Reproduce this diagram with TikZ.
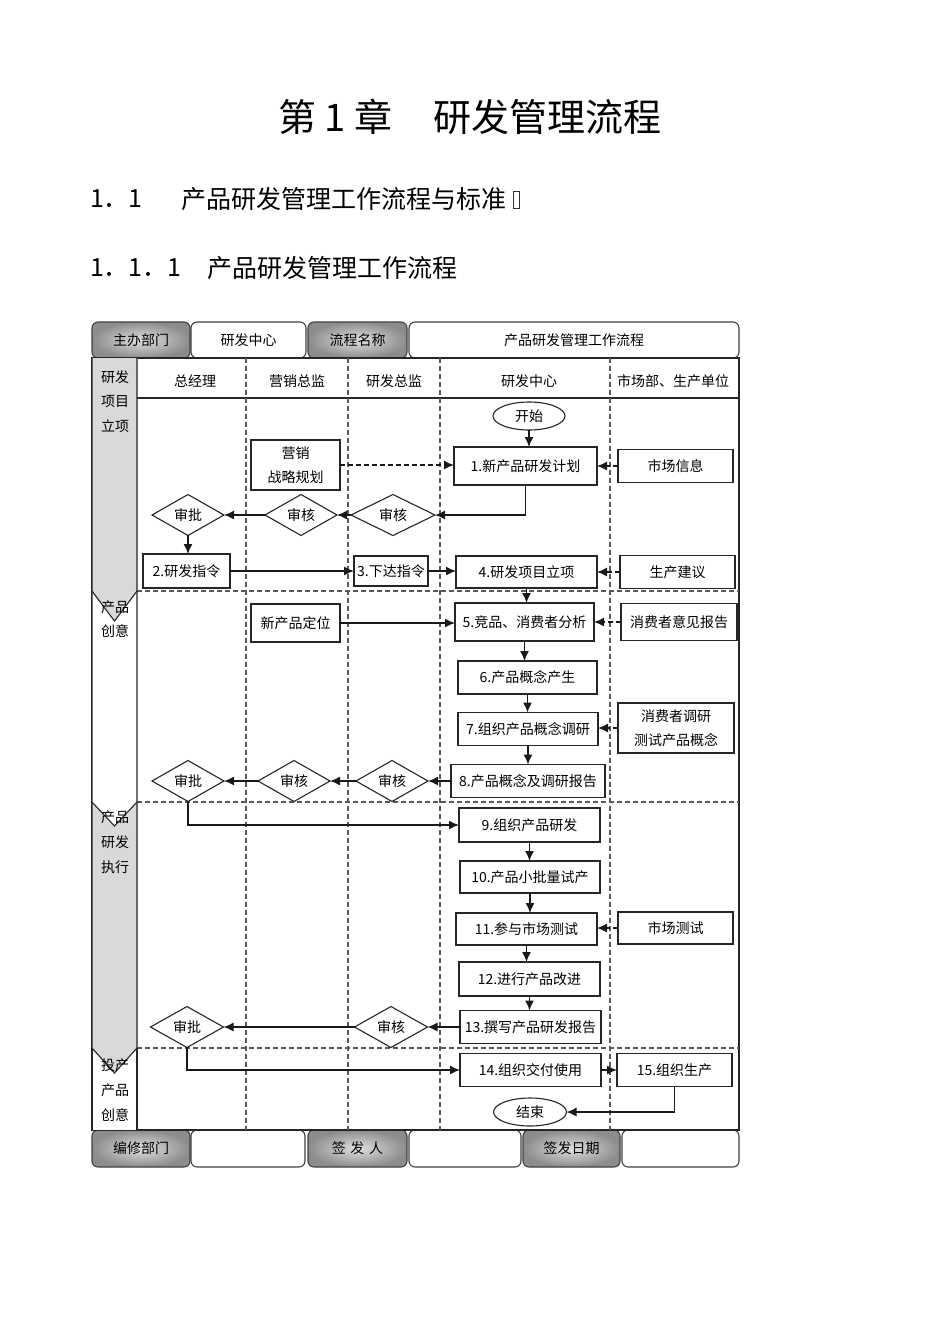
\documentclass[tikz,border=0pt]{standalone}
\usepackage{fontspec}
\setmainfont{Noto Sans CJK SC}
\usetikzlibrary{shapes.geometric,arrows.meta}
\newcommand\fs{\fontsize{14}{24}\selectfont}
\newcommand\mybox[6]{\node[box, minimum width=#4pt, minimum height=#5pt] (#1) at (#2,#3) {#6};}
\newcommand\mydia[5]{\node[dia, minimum width=#4pt, minimum height=40pt] (#1) at (#2,#3) {#5};}
\begin{document}
\begin{tikzpicture}[x=1pt,y=-1pt,
  every node/.style={inner sep=0pt, outer sep=0pt},
  box/.style={draw=black!85, line width=1.2pt, fill=white, font=\fs, align=center},
  dia/.style={diamond, draw=black!85, line width=1.1pt, fill=white, font=\fs, inner sep=0pt},
  ell/.style={ellipse, draw=black!85, line width=1.1pt, fill=white, font=\fs},
  arr/.style={line width=1.4pt, draw=black!90, -{Latex[length=10pt,width=9pt]}},
  darr/.style={arr, dash pattern=on 5pt off 3pt},
  lane/.style={draw=black!65, line width=1.2pt, dash pattern=on 5pt off 3pt},
  hg/.style={draw=black!75, line width=1.1pt, rounded corners=6pt, inner color=black!12, outer color=black!45, font=\fs},
  hw/.style={draw=black!75, line width=1.1pt, rounded corners=6pt, fill=white, font=\fs},
  stg/.style={font=\fs},
]
\useasboundingbox (0,0) rectangle (950,1344);
\fill[white] (0,0) rectangle (950,1344);

% headings
\node[anchor=west, font=\fontsize{38}{40}\selectfont] (t1) at (278,117) {第~1~章};
\node[anchor=west, font=\fontsize{38}{40}\selectfont] (t2) at (433,117) {研发管理流程};
\node[anchor=west, font=\fontsize{25}{28}\selectfont] (s1) at (90,199) {1．1};
\node[anchor=west, font=\fontsize{25}{28}\selectfont] (s2) at (181,199) {产品研发管理工作流程与标准};
\draw[black!80, line width=0.6pt] (513,191) rectangle (519,208);
\node[anchor=west, font=\fontsize{25}{28}\selectfont] (s3) at (90,268) {1．1．1};
\node[anchor=west, font=\fontsize{25}{28}\selectfont] (s4) at (207,268) {产品研发管理工作流程};

% header row
\node[hg, minimum width=98pt, minimum height=36pt] (h1) at (141,340) {主办部门};
\node[hw, minimum width=115pt, minimum height=36pt] (h2) at (248.5,340) {研发中心};
\node[hg, minimum width=99pt, minimum height=36pt] (h3) at (357.5,340) {流程名称};
\node[hw, minimum width=330pt, minimum height=36pt] (h4) at (574,340) {产品研发管理工作流程};

% footer row
\node[hg, minimum width=98pt, minimum height=37pt] (f1) at (141,1148.5) {编修部门};
\node[hw, minimum width=114pt, minimum height=37pt] (f2) at (248,1148.5) {};
\node[hg, minimum width=99pt, minimum height=37pt] (f3) at (357.5,1148.5) {签\,\,发\,\,人};
\node[hw, minimum width=112pt, minimum height=37pt] (f4) at (465,1148.5) {};
\node[hg, minimum width=97pt, minimum height=37pt] (f5) at (571.5,1148.5) {签发日期};
\node[hw, minimum width=117pt, minimum height=37pt] (f6) at (680.5,1148.5) {};

% frame
\draw[black!85, line width=1.3pt] (92,358) rectangle (739,1130);
\draw[black!85, line width=1.3pt] (137,398) -- (739,398);
\foreach \x in {246,348,440,610} \draw[lane] (\x,358) -- (\x,1130);
\foreach \y in {591,802,1048} \draw[lane] (137,\y) -- (739,\y);

% stage column (drawn bottom-up so tips overlap)
\fill[white] (92,1048) rectangle (137,1130);
\draw[black!85, line width=1.1pt] (137,1048) -- (137,1130) (92,1130) -- (92,1048);
\fill[black!15] (92,802) -- (137,802) -- (137,1048) -- (114.5,1073) -- (92,1048) -- cycle;
\draw[black!85, line width=1.1pt] (137,802) -- (137,1048) -- (114.5,1073) -- (92,1048) -- (92,802);
\fill[white] (92,591) -- (137,591) -- (137,802) -- (114.5,826) -- (92,802) -- cycle;
\draw[black!85, line width=1.1pt] (137,591) -- (137,802) -- (114.5,826) -- (92,802) -- (92,591);
\fill[black!15] (92,358) -- (137,358) -- (137,591) -- (114.5,621) -- (92,591) -- cycle;
\draw[black!85, line width=1.1pt] (137,358) -- (137,591) -- (114.5,621) -- (92,591) -- (92,358);

\node[stg] (g1) at (115,377) {研发};
\node[stg] (g2) at (115,401) {项目};
\node[stg] (g3) at (115,426) {立项};
\node[stg] (g4) at (115,607) {产品};
\node[stg] (g5) at (115,631) {创意};
\node[stg] (g6) at (115,817) {产品};
\node[stg] (g7) at (115,842) {研发};
\node[stg] (g8) at (115,867) {执行};
\node[stg] (g9) at (115,1065) {投产};
\node[stg] (g10) at (115,1090) {产品};
\node[stg] (g11) at (115,1115) {创意};

% column headers
\node[stg] (c1) at (195,381) {总经理};
\node[stg] (c2) at (297,381) {营销总监};
\node[stg] (c3) at (394,381) {研发总监};
\node[stg] (c4) at (529,381) {研发中心};
\node[stg] (c5) at (673,381) {市场部、生产单位};

% nodes
\node[ell, minimum width=72pt, minimum height=28pt] (start) at (529,416) {开始};
\mybox{n1}{525.5}{466}{143}{38}{1.新产品研发计划}
\mybox{info}{675.5}{466}{115}{33}{市场信息}
\mybox{mkt}{295.5}{465}{89}{50}{营销\\战略规划}
\mydia{d13}{393}{515}{84}{审核}
\mydia{d12}{301}{515}{72}{审核}
\mydia{d11}{188}{515}{72}{审批}
\mybox{n2}{186.5}{571}{87}{34}{2.研发指令}
\mybox{n3}{391}{571}{74}{30}{3.下达指令}
\mybox{n4}{526.5}{572}{141}{32}{4.研发项目立项}
\mybox{prod}{677.5}{572}{115}{33}{生产建议}
\mybox{n5}{524.5}{622}{139}{38}{5.竞品、消费者分析}
\mybox{opin}{679}{622}{116}{37}{消费者意见报告}
\mybox{pos}{295.5}{623}{89}{38}{新产品定位}
\mybox{n6}{527.5}{677.5}{139}{33}{6.产品概念产生}
\mybox{n7}{528}{729}{140}{33}{7.组织产品概念调研}
\mybox{survey}{676}{728}{116}{50}{消费者调研\\测试产品概念}
\mybox{n8}{528}{781}{154}{33}{8.产品概念及调研报告}
\mydia{d23}{392}{781}{72}{审核}
\mydia{d22}{294}{781}{72}{审核}
\mydia{d21}{188}{781}{72}{审批}
\mybox{n9}{529.5}{825}{141}{34}{9.组织产品研发}
\mybox{n10}{530}{877}{140}{32}{10.产品小批量试产}
\mybox{n11}{526.5}{929}{141}{32}{11.参与市场测试}
\mybox{mtest}{675.5}{928}{115}{32}{市场测试}
\mybox{n12}{529.5}{979}{141}{34}{12.进行产品改进}
\mybox{n13}{530.5}{1027}{141}{33}{13.撰写产品研发报告}
\mydia{d33}{391}{1027}{73}{审核}
\mydia{d31}{187}{1027}{73}{审批}
\mybox{n14}{530.5}{1070}{141}{33}{14.组织交付使用}
\mybox{n15}{674.5}{1070}{115}{33}{15.组织生产}
\node[ell, minimum width=73pt, minimum height=28pt] (end) at (530,1112) {结束};

% connectors
\draw[arr] (start.south) -- (start.south |- n1.north);
\draw[darr] (mkt.east) -- (mkt.east -| n1.west);
\draw[darr] (info.west) -- (info.west -| n1.east);
\draw[arr] (n1.south) |- (d13.east);
\draw[arr] (d13.west) -- (d12.east);
\draw[arr] (d12.west) -- (d11.east);
\draw[arr] (d11.south) -- (d11.south |- n2.north);
\draw[arr] (n2.east) -- (n2.east -| n3.west);
\draw[arr] (n3.east) -- (n3.east -| n4.west);
\draw[darr] (prod.west) -- (prod.west -| n4.east);
\draw[arr] (n4.south) -- (n4.south |- n5.north);
\draw[arr] (pos.east) -- (pos.east -| n5.west);
\draw[darr] (opin.west) -- (opin.west -| n5.east);
\draw[arr] (n5.south) -- (n5.south |- n6.north);
\draw[arr] (n6.south) -- (n6.south |- n7.north);
\draw[darr] (survey.west) -- (survey.west -| n7.east);
\draw[arr] (n7.south) -- (n7.south |- n8.north);
\draw[arr] (n8.west) -- (d23.east);
\draw[arr] (d23.west) -- (d22.east);
\draw[arr] (d22.west) -- (d21.east);
\draw[arr] (d21.south) |- (n9.west);
\draw[arr] (n9.south) -- (n9.south |- n10.north);
\draw[arr] (n10.south) -- (n10.south |- n11.north);
\draw[darr] (mtest.west) -- (mtest.west -| n11.east);
\draw[arr] (n11.south) -- (n11.south |- n12.north);
\draw[arr] (n12.south) -- (n12.south |- n13.north);
\draw[arr] (n13.west) -- (d33.east);
\draw[arr] (d33.west) -- (d31.east);
\draw[arr] (d31.south) |- (n14.west);
\draw[arr] (n14.east) -- (n14.east -| n15.west);
\draw[arr] (n15.south) |- (end.east);
\end{tikzpicture}
\end{document}
